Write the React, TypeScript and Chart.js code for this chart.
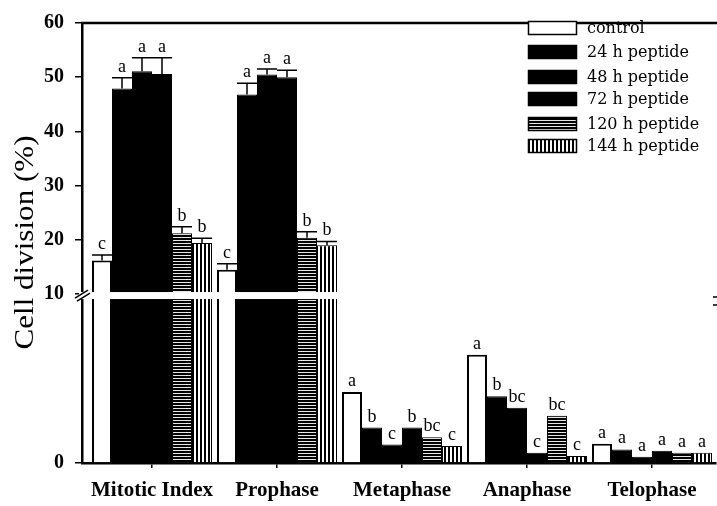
import { useEffect, useRef } from 'react';
import { Chart, registerables, LinearScale } from 'chart.js';

// ---------- data ----------
const categories = ['Mitotic Index', 'Prophase', 'Metaphase', 'Anaphase', 'Telophase'];
const seriesNames = ['control', '24 h peptide', '48 h peptide', '72 h peptide', '120 h peptide', '144 h peptide'];

const controlVals = [16.2, 14.5, 4.2, 6.4, 1.14];
const h24Vals = [47.9, 46.8, 2.1, 3.95, 0.8];
const h48Vals = [51.1, 50.5, 1.09, 3.27, 0.37];
const h72Vals = [50.6, 50.0, 2.1, 0.6, 0.72];
const h120Vals = [21.2, 20.4, 1.53, 2.79, 0.6];
const h144Vals = [19.4, 19.0, 1.0, 0.41, 0.6];

const controlErr = [1.0, 1.1, 0, 0, 0];
const h24Err = [2.0, 2.1, 0, 0, 0];
const h48Err = [2.5, 1.0, 0, 0, 0];
const h72Err = [3.0, 1.3, 0, 0, 0];
const h120Err = [1.2, 1.1, 0, 0, 0];
const h144Err = [0.9, 0.7, 0, 0, 0];

const controlLetters = ['c', 'c', 'a', 'a', 'a'];
const h24Letters = ['a', 'a', 'b', 'b', 'a'];
const h48Letters = ['a', 'a', 'c', 'bc', 'a'];
const h72Letters = ['a', 'a', 'b', 'c', 'a'];
const h120Letters = ['b', 'b', 'bc', 'bc', 'a'];
const h144Letters = ['b', 'b', 'c', 'c', 'a'];

const yTickValues = [0, 10, 20, 30, 40, 50, 60];

const seriesValues = [controlVals, h24Vals, h48Vals, h72Vals, h120Vals, h144Vals];
const seriesErrors = [controlErr, h24Err, h48Err, h72Err, h120Err, h144Err];
const seriesLetters = [controlLetters, h24Letters, h48Letters, h72Letters, h120Letters, h144Letters];

// ---------- axis break config ----------
const LOW_MIN = 0;
const BREAK_VAL = 10;
const HIGH_MAX = 60;
const BREAK_FRAC = 0.384; // fraction of plot height used by the lower segment

class BrokenScale extends LinearScale {
  static id = 'brokenY';
  getPixelForValue(value: any) {
    if (value === null || value === undefined || isNaN(value)) return NaN;
    const top = this.top, bottom = this.bottom;
    const kPix = bottom - BREAK_FRAC * (bottom - top);
    if (value <= BREAK_VAL) {
      return bottom - ((value - LOW_MIN) / (BREAK_VAL - LOW_MIN)) * (bottom - kPix);
    }
    return kPix - ((value - BREAK_VAL) / (HIGH_MAX - BREAK_VAL)) * (kPix - top);
  }
  getValueForPixel(pixel: number) {
    const top = this.top, bottom = this.bottom;
    const kPix = bottom - BREAK_FRAC * (bottom - top);
    if (pixel >= kPix) {
      return LOW_MIN + ((bottom - pixel) / (bottom - kPix)) * (BREAK_VAL - LOW_MIN);
    }
    return BREAK_VAL + ((kPix - pixel) / (kPix - top)) * (HIGH_MAX - BREAK_VAL);
  }
}

Chart.register(...registerables, BrokenScale as any);

function makeHStripe(): CanvasPattern | string {
  const c = document.createElement('canvas');
  c.width = 4; c.height = 3;
  const g = c.getContext('2d');
  if (!g) return '#000';
  g.fillStyle = '#000'; g.fillRect(0, 0, 4, 3);
  g.fillStyle = '#e6e6e6'; g.fillRect(0, 0, 4, 1);
  return g.createPattern(c, 'repeat') || '#000';
}
function makeVStripe(): CanvasPattern | string {
  const c = document.createElement('canvas');
  c.width = 4; c.height = 4;
  const g = c.getContext('2d');
  if (!g) return '#000';
  g.fillStyle = '#fff'; g.fillRect(0, 0, 4, 4);
  g.fillStyle = '#000'; g.fillRect(0, 0, 2, 4);
  return g.createPattern(c, 'repeat') || '#000';
}

const LEGEND_X = 528;
const LEGEND_TEXT_X = 587;
const LEGEND_ROWS_Y = [28, 52, 77, 99, 124, 146];

export default function App() {
  const ref = useRef<HTMLCanvasElement | null>(null);
  useEffect(() => {
    if (!ref.current) return;
    const hStripe = makeHStripe();
    const vStripe = makeVStripe();
    const fills: any[] = ['#ffffff', '#000000', '#000000', '#000000', hStripe, vStripe];

    const datasets = seriesNames.map((name, i) => ({
      label: name,
      data: seriesValues[i].map((v, j) => ({ x: j, y: v })),
      backgroundColor: fills[i],
      borderColor: '#000',
      borderWidth: i === 0 ? 2 : 1,
      barPercentage: 1,
      categoryPercentage: 0.96,
    }));

    const errPlugin = {
      id: 'errLetters',
      afterDatasetsDraw(chart: any) {
        const ctx = chart.ctx;
        const ys = chart.scales.y;
        ctx.save();
        ctx.strokeStyle = '#000';
        ctx.fillStyle = '#000';
        ctx.lineWidth = 1.5;
        ctx.font = '18px "Liberation Serif"';
        ctx.textAlign = 'center';
        ctx.textBaseline = 'alphabetic';
        chart.data.datasets.forEach((_ds: any, i: number) => {
          const meta = chart.getDatasetMeta(i);
          meta.data.forEach((bar: any, j: number) => {
            const v = seriesValues[i][j];
            const e = seriesErrors[i][j];
            const x = bar.x;
            const w = bar.width;
            const yv = ys.getPixelForValue(v);
            const yt = ys.getPixelForValue(v + e);
            if (e > 0) {
              ctx.beginPath();
              ctx.moveTo(x, yv);
              ctx.lineTo(x, yt);
              ctx.moveTo(x - w / 2, yt);
              ctx.lineTo(x + w / 2, yt);
              ctx.stroke();
            }
            ctx.fillText(seriesLetters[i][j], x, yt - 6);
          });
        });
        ctx.restore();
      },
    };

    const breakPlugin = {
      id: 'axisBreak',
      afterDatasetsDraw(chart: any) {
        const ctx = chart.ctx;
        const ys = chart.scales.y;
        const a = chart.chartArea;
        const by = ys.getPixelForValue(BREAK_VAL);
        ctx.save();
        ctx.fillStyle = '#fff';
        ctx.fillRect(a.left - 3, by - 2, chart.width - a.left + 3, 7);
        ctx.strokeStyle = '#000';
        ctx.lineWidth = 1.5;
        ctx.beginPath();
        ctx.moveTo(a.left - 7, by + 4);
        ctx.lineTo(a.left + 6, by - 4);
        ctx.moveTo(a.left - 5, by + 7);
        ctx.lineTo(a.left + 8, by - 1);
        ctx.stroke();
        ctx.beginPath();
        ctx.moveTo(chart.width - 4, by + 3);
        ctx.lineTo(chart.width, by + 3);
        ctx.moveTo(chart.width - 4, by + 11);
        ctx.lineTo(chart.width, by + 11);
        ctx.stroke();
        // top frame line
        ctx.lineWidth = 2.5;
        ctx.beginPath();
        ctx.moveTo(a.left - 1, a.top);
        ctx.lineTo(chart.width, a.top);
        ctx.stroke();
        ctx.restore();
      },
    };

    const legendPlugin = {
      id: 'customLegend',
      afterDraw(chart: any) {
        const ctx = chart.ctx;
        ctx.save();
        ctx.font = '16px "DejaVu Serif"';
        ctx.textAlign = 'left';
        ctx.textBaseline = 'middle';
        chart.data.datasets.forEach((ds: any, i: number) => {
          const y = LEGEND_ROWS_Y[i];
          ctx.fillStyle = ds.backgroundColor;
          ctx.fillRect(LEGEND_X, y - 7, 49, 14);
          ctx.strokeStyle = '#000';
          ctx.lineWidth = 1.5;
          ctx.strokeRect(LEGEND_X + 0.5, y - 6.5, 48, 13);
          ctx.fillStyle = '#000';
          ctx.fillText(ds.label, LEGEND_TEXT_X, y + 1);
        });
        // y axis title
        const t = 'Cell division (%)';
        ctx.translate(26, 242.5);
        ctx.rotate(-Math.PI / 2);
        ctx.font = '27px "Liberation Serif"';
        const tw = ctx.measureText(t).width;
        ctx.scale(214 / tw, 1);
        ctx.textAlign = 'center';
        ctx.textBaseline = 'middle';
        ctx.fillText(t, 0, 0);
        ctx.restore();
      },
    };

    const chart = new Chart(ref.current, {
      type: 'bar',
      data: { datasets: datasets as any },
      options: {
        animation: false,
        responsive: false,
        devicePixelRatio: 1,
        layout: { padding: { top: 15, right: 1, left: 0, bottom: 0 } },
        plugins: { legend: { display: false }, tooltip: { enabled: false } },
        scales: {
          x: {
            type: 'linear',
            offset: false,
            min: -0.56,
            max: 4.512,
            afterBuildTicks: (s: any) => { s.ticks = categories.map((_c, i) => ({ value: i })); },
            afterFit: (s: any) => { s.height = 43; },
            ticks: {
              callback: (v: any) => categories[v as number] ?? '',
              color: '#000',
              font: { family: '"Liberation Serif"', size: 21, weight: 'bold' },
              padding: 10,
              maxRotation: 0,
              autoSkip: false,
            },
            grid: { offset: false, drawOnChartArea: false, drawTicks: true, tickLength: 5, color: '#000', lineWidth: 1.5 },
            border: { display: true, color: '#000', width: 2.5 },
          },
          y: {
            type: 'brokenY' as any,
            min: LOW_MIN,
            max: HIGH_MAX,
            afterBuildTicks: (s: any) => { s.ticks = yTickValues.map((v) => ({ value: v })); },
            afterFit: (s: any) => { s.width = 82; },
            ticks: {
              callback: (v: any) => String(v),
              color: '#000',
              font: { family: '"Liberation Serif"', size: 20, weight: 'bold' },
              padding: 11,
            },
            grid: { drawOnChartArea: false, drawTicks: true, tickLength: 7, color: '#000', lineWidth: 1.5 },
            border: { display: true, color: '#000', width: 2.5 },
          },
        } as any,
      },
      plugins: [errPlugin, breakPlugin, legendPlugin],
    });
    return () => chart.destroy();
  }, []);

  return (
    <div style={{ position: 'absolute', left: 0, top: 0, width: 717, height: 506, background: '#fff' }}>
      <canvas ref={ref} width={717} height={506} style={{ width: 717, height: 506, display: 'block' }} />
    </div>
  );
}
